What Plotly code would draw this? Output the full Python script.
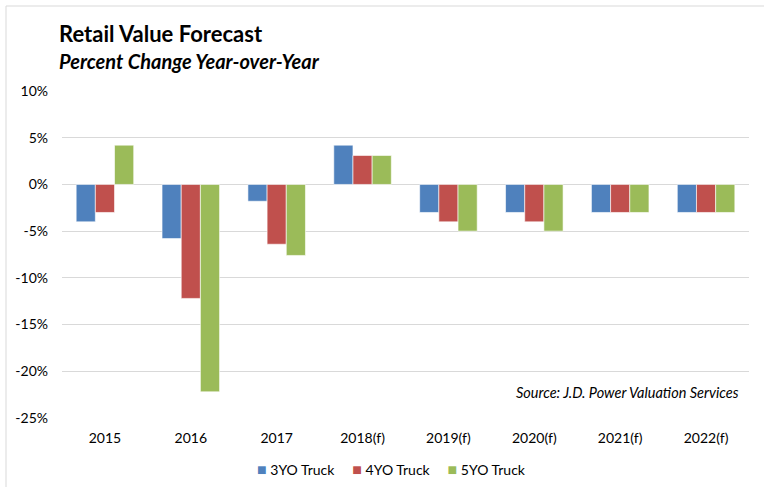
import plotly.graph_objects as go

categories = ["2015", "2016", "2017", "2018(f)", "2019(f)", "2020(f)", "2021(f)", "2022(f)"]
truck3 = [-4.0, -5.8, -1.8, 4.2, -3.0, -3.0, -3.0, -3.0]
truck4 = [-3.0, -12.2, -6.4, 3.1, -4.0, -4.0, -3.0, -3.0]
truck5 = [4.2, -22.2, -7.6, 3.1, -5.0, -5.0, -3.0, -3.0]
series_names = ["3YO Truck", "4YO Truck", "5YO Truck"]
colors = ["#4F81BD", "#C0504D", "#9BBB59"]
tick_vals = [10, 5, 0, -5, -10, -15, -20, -25]
tick_text = ["10%", "5%", "0%", "-5%", "-10%", "-15%", "-20%", "-25%"]

FONT = "Lato, 'Open Sans', sans-serif"
L, R, T, B = 62, 15, 91, 69
PW, PH = 764 - L - R, 487 - T - B

fig = go.Figure()
for name, vals, c in zip(series_names, [truck3, truck4, truck5], colors):
    fig.add_trace(go.Bar(
        x=categories, y=vals, name=name,
        marker=dict(color=c, line=dict(color="rgba(255,255,255,0.6)", width=1)),
    ))

fig.update_layout(
    width=764, height=487,
    barmode="group", bargap=0.33, bargroupgap=0,
    plot_bgcolor="white", paper_bgcolor="white",
    margin=dict(l=L, r=R, t=T, b=B, autoexpand=False),
    font=dict(family=FONT, size=14, color="#000000"),
    xaxis=dict(showgrid=False, showline=False, ticks="", tickfont=dict(size=14, color="#000"),
               ticklabelstandoff=10),
    yaxis=dict(range=[-25, 10], tickvals=tick_vals, ticktext=tick_text,
               showgrid=True, gridcolor="#D9D9D9", gridwidth=1,
               zeroline=True, zerolinecolor="#D9D9D9", zerolinewidth=1,
               tickfont=dict(size=14, color="#000"), ticklabelstandoff=13),
    showlegend=False,
)

# legend built as text
parts = []
for name, c in zip(series_names, colors):
    parts.append(f"<span style='color:{c};font-size:16px'>■</span> {name}")
legend_text = "&nbsp;&nbsp;&nbsp;&nbsp;&nbsp;".join(parts)
fig.add_annotation(text=legend_text, xref="paper", yref="paper",
                   x=(391.5 - L) / PW, y=0, yshift=-(468 - (487 - B)),
                   xanchor="center", yanchor="middle", showarrow=False,
                   font=dict(size=14, family=FONT, color="#000"))

fig.add_annotation(text="<b>Retail Value Forecast</b>", xref="paper", yref="paper",
                   x=(57 - L) / PW, y=1, yshift=T - 33, xanchor="left", yanchor="middle",
                   showarrow=False, font=dict(size=22, family=FONT, color="#000"))
fig.add_annotation(text="<b><i>Percent Change Year-over-Year</i></b>", xref="paper", yref="paper",
                   x=(57 - L) / PW, y=1, yshift=T - 61, xanchor="left", yanchor="middle",
                   showarrow=False, font=dict(size=20, family=FONT, color="#000"))
fig.add_annotation(text="<i>Source: J.D. Power Valuation Services</i>", xref="paper", yref="paper",
                   x=(741 - L) / PW, y=0, yshift=(487 - B) - 392, xanchor="right", yanchor="middle",
                   showarrow=False, font=dict(size=14.5, family=FONT, color="#000"))

fig.add_shape(type="rect", xref="paper", yref="paper",
              x0=(6 - L) / PW, x1=(775 - L) / PW,
              y0=-(500 - (487 - B)) / PH, y1=1 + (T - 6) / PH,
              line=dict(color="#D9D9D9", width=1), layer="below")

fig.write_html("out.html", config={"displayModeBar": False},
               post_script="document.body.style.margin='0';")
